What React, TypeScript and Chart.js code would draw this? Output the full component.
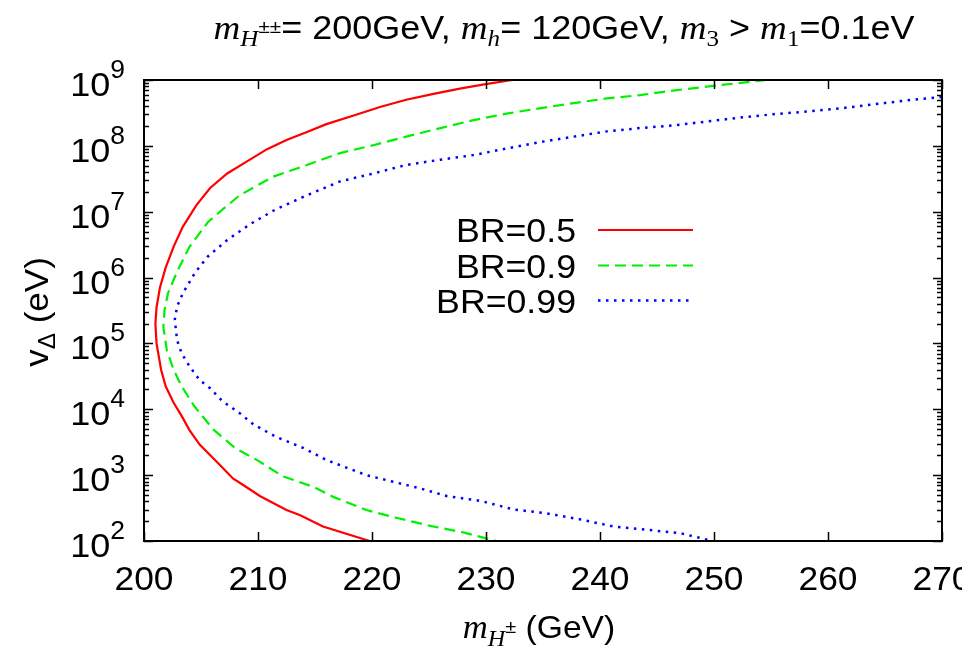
import React, { useEffect, useRef } from "react";
import { Chart, registerables } from "chart.js";

Chart.register(...registerables);

// ---- data ----
const xTickValues = [200, 210, 220, 230, 240, 250, 260, 270];
const yDecadeExponents = [2, 3, 4, 5, 6, 7, 8, 9];
const legendLabels = ["BR=0.5", "BR=0.9", "BR=0.99"];

// BR = 0.5 (red, solid): charged Higgs mass (GeV) and log10(v_Delta / eV)
const br05Mass = [232.3, 230.1, 227.7, 225.4, 223.0, 220.7, 218.4, 216.0, 214.3, 212.5, 210.8, 209.0, 207.3, 205.8, 204.6, 203.4, 202.6, 201.9, 201.4, 201.1, 201.0, 201.1, 201.5, 201.9, 202.6, 203.3, 204.0, 204.9, 206.4, 207.8, 208.7, 210.2, 212.5, 213.7, 215.7, 219.8];
const br05LogV = [9.0, 8.94, 8.87, 8.79, 8.70, 8.59, 8.46, 8.33, 8.21, 8.09, 7.95, 7.76, 7.58, 7.36, 7.10, 6.77, 6.47, 6.15, 5.85, 5.55, 5.30, 5.0, 4.6, 4.35, 4.1, 3.9, 3.68, 3.46, 3.20, 2.95, 2.85, 2.68, 2.47, 2.39, 2.22, 2.0];

// BR = 0.9 (green, dashed)
const br09Mass = [254.6, 249.9, 246.4, 243.5, 240.6, 237.7, 234.7, 231.8, 228.9, 226.0, 223.0, 220.1, 217.2, 214.3, 211.3, 208.4, 207.0, 205.6, 204.0, 202.9, 202.1, 201.8, 201.7, 202.0, 202.6, 203.3, 204.4, 206.1, 208.0, 210.0, 212.2, 214.9, 216.6, 219.5, 222.2, 225.1, 228.0, 230.9];
const br09LogV = [9.0, 8.91, 8.84, 8.77, 8.72, 8.65, 8.57, 8.49, 8.39, 8.27, 8.14, 8.01, 7.89, 7.71, 7.53, 7.25, 7.05, 6.84, 6.47, 6.09, 5.76, 5.51, 5.25, 4.90, 4.60, 4.35, 4.05, 3.69, 3.41, 3.22, 2.98, 2.82, 2.67, 2.47, 2.35, 2.23, 2.13, 2.0];

// BR = 0.99 (blue, dotted)
const br099Mass = [270.0, 266.9, 264.0, 261.1, 258.1, 255.2, 252.3, 249.4, 246.4, 243.5, 240.6, 237.7, 234.5, 231.8, 228.9, 226.0, 223.0, 220.1, 217.2, 214.3, 211.6, 209.3, 207.3, 205.6, 204.5, 203.4, 202.9, 202.7, 202.9, 203.3, 204.0, 204.9, 205.8, 206.9, 208.4, 209.6, 211.6, 214.0, 216.0, 219.5, 221.6, 224.2, 226.6, 229.5, 232.4, 235.3, 238.2, 241.2, 244.1, 247.0, 249.9];
const br099LogV = [8.74, 8.69, 8.63, 8.57, 8.52, 8.48, 8.43, 8.37, 8.31, 8.27, 8.22, 8.14, 8.05, 7.96, 7.86, 7.79, 7.71, 7.58, 7.46, 7.25, 7.04, 6.81, 6.57, 6.32, 6.08, 5.76, 5.56, 5.36, 5.05, 4.85, 4.65, 4.44, 4.32, 4.12, 3.94, 3.77, 3.58, 3.41, 3.23, 3.00, 2.91, 2.80, 2.68, 2.61, 2.48, 2.42, 2.33, 2.22, 2.17, 2.12, 2.0];

// ---- styling ----
const SANS = '"Liberation Sans", Arial, Helvetica, sans-serif';
const SERIF = '"Liberation Serif", "Times New Roman", serif';
const COLORS = ["#ff0000", "#00f000", "#0000ff"];
const DASHES: number[][] = [[], [11, 6], [2.5, 5.5]];
const WIDTHS = [2.2, 2.2, 2.5];

type Seg = { t: string; f: string; dy?: number };

function richWidth(ctx: CanvasRenderingContext2D, segs: Seg[]) {
  let w = 0;
  for (const s of segs) {
    ctx.font = s.f;
    w += ctx.measureText(s.t).width;
  }
  return w;
}

function drawRich(
  ctx: CanvasRenderingContext2D,
  segs: Seg[],
  x: number,
  y: number,
  align: "left" | "center" | "right",
  sx: number
) {
  const w = richWidth(ctx, segs) * sx;
  const start = align === "center" ? x - w / 2 : align === "right" ? x - w : x;
  ctx.save();
  ctx.translate(start, y);
  ctx.scale(sx, 1);
  ctx.fillStyle = "#000";
  ctx.textAlign = "left";
  ctx.textBaseline = "alphabetic";
  let cx = 0;
  for (const s of segs) {
    ctx.font = s.f;
    ctx.fillText(s.t, cx, s.dy || 0);
    cx += ctx.measureText(s.t).width;
  }
  ctx.restore();
}

const decorPlugin = {
  id: "gnuplotDecor",
  afterDraw(chart: any) {
    const ctx: CanvasRenderingContext2D = chart.ctx;
    const { left, right, top, bottom } = chart.chartArea;
    const xs = chart.scales.x;
    const ys = chart.scales.y;

    ctx.save();
    // ticks
    ctx.strokeStyle = "#000";
    ctx.lineWidth = 1.5;
    ctx.beginPath();
    for (const v of xTickValues) {
      const px = Math.round(xs.getPixelForValue(v)) + 0.5;
      ctx.moveTo(px, bottom);
      ctx.lineTo(px, bottom - 9);
      ctx.moveTo(px, top);
      ctx.lineTo(px, top + 9);
    }
    for (const e of yDecadeExponents) {
      const base = Math.pow(10, e);
      const py = Math.round(ys.getPixelForValue(base)) + 0.5;
      ctx.moveTo(left, py);
      ctx.lineTo(left + 9, py);
      ctx.moveTo(right, py);
      ctx.lineTo(right - 9, py);
      if (e < 9) {
        for (let k = 2; k <= 9; k++) {
          const my = Math.round(ys.getPixelForValue(base * k)) + 0.5;
          ctx.moveTo(left, my);
          ctx.lineTo(left + 5, my);
          ctx.moveTo(right, my);
          ctx.lineTo(right - 5, my);
        }
      }
    }
    ctx.stroke();

    // frame
    ctx.lineWidth = 2;
    ctx.strokeRect(left, top, right - left, bottom - top);

    // x tick labels
    for (const v of xTickValues) {
      const px = xs.getPixelForValue(v);
      drawRich(ctx, [{ t: String(v), f: `34px ${SANS}` }], px, 590, "center", 1.04);
    }
    // y tick labels
    for (const e of yDecadeExponents) {
      const py = ys.getPixelForValue(Math.pow(10, e));
      drawRich(
        ctx,
        [
          { t: "10", f: `34px ${SANS}`, dy: 16 },
          { t: String(e), f: `25px ${SANS}`, dy: -2 },
        ],
        125,
        py,
        "right",
        1.06
      );
    }

    // title
    const it = (s: number) => `italic ${s}px ${SERIF}`;
    const sf = (s: number) => `${s}px ${SANS}`;
    drawRich(
      ctx,
      [
        { t: "m", f: it(34) },
        { t: "H", f: it(23), dy: 7 },
        { t: "±±", f: sf(19), dy: -6 },
        { t: "= 200GeV, ", f: sf(33) },
        { t: "m", f: it(34) },
        { t: "h", f: it(23), dy: 7 },
        { t: "= 120GeV, ", f: sf(33) },
        { t: "m", f: it(34) },
        { t: "3", f: `23px ${SERIF}`, dy: 7 },
        { t: " > ", f: sf(33) },
        { t: "m", f: it(34) },
        { t: "1", f: `23px ${SERIF}`, dy: 7 },
        { t: "=0.1eV", f: sf(33) },
      ],
      564,
      39,
      "center",
      1.09
    );

    // x axis title
    drawRich(
      ctx,
      [
        { t: "m", f: it(33) },
        { t: "H", f: it(23), dy: 8 },
        { t: "±", f: sf(19), dy: -5 },
        { t: " (GeV)", f: sf(32) },
      ],
      539,
      638,
      "center",
      1.05
    );

    // y axis title (rotated)
    ctx.save();
    ctx.translate(48, 312);
    ctx.rotate(-Math.PI / 2);
    drawRich(
      ctx,
      [
        { t: "v", f: sf(33) },
        { t: "Δ", f: sf(23), dy: 7 },
        { t: " (eV)", f: sf(33) },
      ],
      0,
      0,
      "center",
      1.06
    );
    ctx.restore();

    // legend
    const rowsY = [230, 265.5, 300.5];
    legendLabels.forEach((lab, i) => {
      drawRich(ctx, [{ t: lab, f: `34px ${SANS}` }], 576, rowsY[i] + 12, "right", 1.05);
      ctx.save();
      ctx.strokeStyle = COLORS[i];
      ctx.lineWidth = WIDTHS[i];
      ctx.setLineDash(DASHES[i]);
      ctx.beginPath();
      ctx.moveTo(598, rowsY[i]);
      ctx.lineTo(693, rowsY[i]);
      ctx.stroke();
      ctx.restore();
    });
    ctx.restore();
  },
};

function series(mass: number[], logV: number[]) {
  return mass.map((m, i) => ({ x: m, y: Math.pow(10, logV[i]) }));
}

export default function App() {
  const ref = useRef<HTMLCanvasElement | null>(null);
  useEffect(() => {
    if (!ref.current) return;
    const sets = [
      series(br05Mass, br05LogV),
      series(br09Mass, br09LogV),
      series(br099Mass, br099LogV),
    ];
    const chart = new Chart(ref.current, {
      type: "scatter",
      data: {
        datasets: sets.map((d, i) => ({
          label: legendLabels[i],
          data: d,
          showLine: true,
          borderColor: COLORS[i],
          backgroundColor: COLORS[i],
          borderWidth: WIDTHS[i],
          borderDash: DASHES[i],
          borderCapStyle: "butt" as const,
          pointRadius: 0,
          pointHoverRadius: 0,
          tension: 0,
          fill: false,
        })),
      },
      options: {
        animation: false,
        responsive: false,
        devicePixelRatio: 1,
        layout: { padding: { left: 144, right: 20, top: 80, bottom: 112 } },
        plugins: { legend: { display: false }, tooltip: { enabled: false }, title: { display: false } },
        scales: {
          x: { type: "linear", min: 200, max: 270, display: false },
          y: { type: "logarithmic", min: 100, max: 1e9, display: false },
        },
      },
      plugins: [decorPlugin],
    });
    return () => chart.destroy();
  }, []);
  return (
    <div style={{ position: "absolute", left: 0, top: 0, width: 962, height: 653, background: "#fff" }}>
      <canvas ref={ref} width={962} height={653} style={{ display: "block" }} />
    </div>
  );
}
